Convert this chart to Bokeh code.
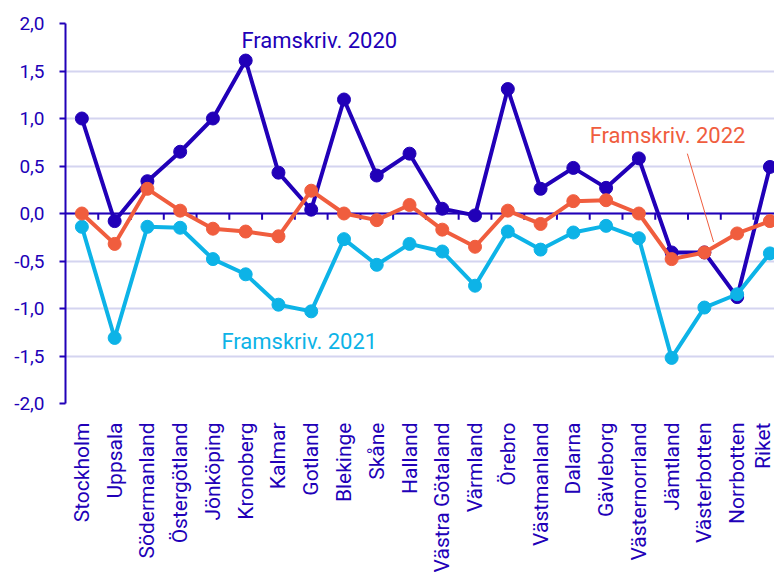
import math
from bokeh.plotting import figure
from bokeh.models import Range1d, FixedTicker, CustomJSTickFormatter, Span, Label
from bokeh.embed import file_html
from bokeh.resources import INLINE

categories = ["Stockholm", "Uppsala", "Södermanland", "Östergötland", "Jönköping",
              "Kronoberg", "Kalmar", "Gotland", "Blekinge", "Skåne", "Halland",
              "Västra Götaland", "Värmland", "Örebro", "Västmanland", "Dalarna",
              "Gävleborg", "Västernorrland", "Jämtland", "Västerbotten", "Norrbotten", "Riket"]

v2020 = [1.00, -0.08, 0.34, 0.65, 1.00, 1.61, 0.43, 0.04, 1.20, 0.40, 0.63,
         0.05, -0.02, 1.31, 0.26, 0.48, 0.27, 0.58, -0.41, -0.41, -0.88, 0.49]
v2021 = [-0.14, -1.31, -0.14, -0.15, -0.48, -0.64, -0.96, -1.03, -0.27, -0.54, -0.32,
         -0.40, -0.76, -0.19, -0.38, -0.20, -0.13, -0.26, -1.52, -0.99, -0.85, -0.42]
v2022 = [0.00, -0.32, 0.26, 0.03, -0.16, -0.19, -0.24, 0.24, 0.00, -0.07, 0.09,
         -0.17, -0.35, 0.03, -0.11, 0.13, 0.14, 0.00, -0.48, -0.41, -0.21, -0.08]

y_ticks = [-2.0, -1.5, -1.0, -0.5, 0.0, 0.5, 1.0, 1.5, 2.0]

C2020 = "#2100b8"
C2021 = "#0db3e7"
C2022 = "#f05d3e"
GRID = "#d4d4f0"
FONT = "Roboto"

xs = list(range(len(categories)))

p = figure(frame_width=709, frame_height=380,
           x_range=Range1d(-0.5, 21.14), y_range=Range1d(-2.0, 2.0),
           output_backend="svg", toolbar_location=None,
           min_border_left=65, min_border_right=0, min_border_top=23, min_border_bottom=0,
           background_fill_color="white", border_fill_color="white")
p.outline_line_color = None

# grid
p.xgrid.grid_line_color = None
p.ygrid.ticker = FixedTicker(ticks=y_ticks)
p.ygrid.grid_line_color = GRID
p.ygrid.grid_line_width = 2

# y axis
p.yaxis.ticker = FixedTicker(ticks=y_ticks)
p.yaxis.formatter = CustomJSTickFormatter(code="return tick.toFixed(1).replace('.', ',');")
p.yaxis.axis_line_color = C2020
p.yaxis.axis_line_width = 2
p.yaxis.major_tick_line_color = C2020
p.yaxis.major_tick_line_width = 2
p.yaxis.major_tick_out = 6
p.yaxis.major_tick_in = 0
p.yaxis.minor_tick_line_color = None
p.yaxis.major_label_text_color = C2020
p.yaxis.major_label_text_font = FONT
p.yaxis.major_label_text_font_size = "19px"
p.yaxis.major_label_standoff = 15

# x axis (category labels)
p.xaxis.ticker = FixedTicker(ticks=xs)
p.xaxis.major_label_overrides = {i: c for i, c in enumerate(categories)}
p.xaxis.major_label_orientation = math.pi / 2
p.xaxis.axis_line_color = None
p.xaxis.major_tick_line_color = None
p.xaxis.minor_tick_line_color = None
p.xaxis.major_label_text_color = C2020
p.xaxis.major_label_text_font = FONT
p.xaxis.major_label_text_font_size = "21px"
p.xaxis.major_label_standoff = 13

# zero line with category-boundary ticks
zero = Span(location=0, dimension="width", line_color=C2020, line_width=2, level="underlay")
p.add_layout(zero)
bounds = [i + 0.5 for i in xs]
p.segment(x0=bounds, y0=[0] * len(bounds), x1=bounds, y1=[-0.065] * len(bounds),
          line_color=C2020, line_width=2)

# series
for vals, col in ((v2020, C2020), (v2021, C2021), (v2022, C2022)):
    p.line(xs, vals, line_color=col, line_width=4)
    p.scatter(xs, vals, size=13, fill_color=col, line_color=col)

# annotations
p.add_layout(Label(x=4.87, y=1.824, text="Framskriv. 2020", text_color=C2020,
                   text_font=FONT, text_font_size="22px", text_baseline="middle"))
p.add_layout(Label(x=4.26, y=-1.349, text="Framskriv. 2021", text_color=C2021,
                   text_font=FONT, text_font_size="22px", text_baseline="middle"))
p.add_layout(Label(x=15.50, y=0.824, text="Framskriv. 2022", text_color=C2022,
                   text_font=FONT, text_font_size="22px", text_baseline="middle"))
p.segment(x0=[18.48], y0=[0.63], x1=[19.28], y1=[-0.30], line_color=C2022, line_width=1)

open("out.html", "w").write(file_html(p, INLINE))
